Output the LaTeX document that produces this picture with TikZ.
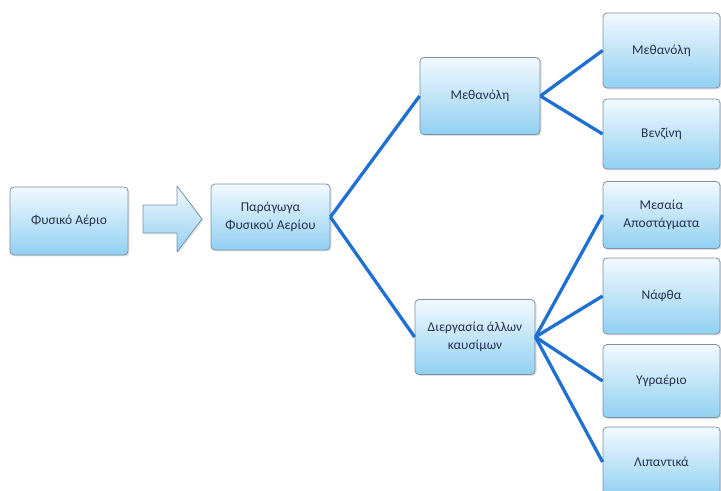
\documentclass[tikz,border=0pt]{standalone}
\usepackage{fontspec}
\setmainfont{Carlito}
\usetikzlibrary{shadows}
\definecolor{boxtop}{RGB}{242,249,254}
\definecolor{boxbot}{RGB}{145,208,242}
\definecolor{boxline}{RGB}{125,145,165}
\definecolor{linkblue}{RGB}{30,112,210}
\definecolor{txt}{RGB}{40,48,78}
\tikzset{
  box/.style={draw=boxline, line width=0.8pt, rounded corners=4pt,
    top color=boxtop, bottom color=boxbot, align=center,
    text=txt, font=\fontsize{13.5}{18}\selectfont,
    drop shadow={shadow xshift=1.5pt, shadow yshift=-1.5pt, opacity=0.25},
    inner sep=0pt},
  link/.style={draw=linkblue, line width=3.3pt}
}
\begin{document}
\begin{tikzpicture}[x=1bp,y=-1bp]
\useasboundingbox (0,0) rectangle (721,491);
\node[box, minimum width=118bp, minimum height=68bp] (fa) at (69,221) {Φυσικό Αέριο};
\node[box, minimum width=119bp, minimum height=66bp] (pa) at (270.5,217) {Παράγωγα\\Φυσικού Αερίου};
\node[box, minimum width=120bp, minimum height=77bp] (me) at (480,96) {Μεθανόλη};
\node[box, minimum width=120bp, minimum height=75bp] (di) at (475,337) {Διεργασία άλλων\\καυσίμων};
\node[box, minimum width=117bp, minimum height=75bp] (r1) at (661.5,50.5) {Μεθανόλη};
\node[box, minimum width=117bp, minimum height=70bp] (r2) at (661.5,134) {Βενζίνη};
\node[box, minimum width=117bp, minimum height=67bp] (r3) at (661.5,215) {Μεσαία\\Αποστάγματα};
\node[box, minimum width=117bp, minimum height=76bp] (r4) at (661.5,296) {Νάφθα};
\node[box, minimum width=117bp, minimum height=73bp] (r5) at (661.5,381) {Υγραέριο};
\node[box, minimum width=117bp, minimum height=70bp] (r6) at (661.5,462) {Λιπαντικά};
% block arrow
\draw[draw=boxline, line width=0.8pt, top color=boxtop, bottom color=boxbot, line join=round,
  drop shadow={shadow xshift=1.5pt, shadow yshift=-1.5pt, opacity=0.2}]
  (143,205) -- (177,205) -- (177,186) -- (202,219) -- (177,252) -- (177,233) -- (143,233) -- cycle;
\draw[link] (pa.east) -- (me.west);
\draw[link] (pa.east) -- (di.west);
\draw[link] (me.east) -- (r1.west);
\draw[link] (me.east) -- (r2.west);
\draw[link] (di.east) -- (r3.west);
\draw[link] (di.east) -- (r4.west);
\draw[link] (di.east) -- (r5.west);
\draw[link] (di.east) -- (r6.west);
\end{tikzpicture}
\end{document}
